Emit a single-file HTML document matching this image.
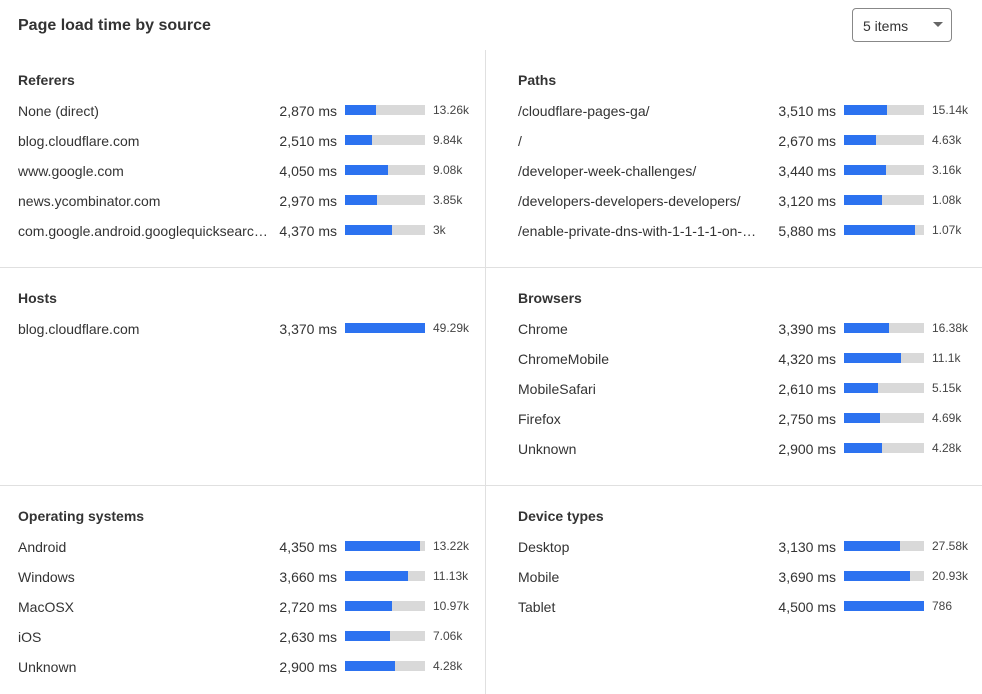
<!DOCTYPE html>
<html><head><style>
body{margin:0;width:982px;height:694px;background:#fff;font-family:"Liberation Sans",Arial,sans-serif;color:#333;position:relative;overflow:hidden}
.a{position:absolute;white-space:nowrap}
.t{font-size:16px;font-weight:bold;color:#333}
.h{font-size:14px;font-weight:bold;color:#333}
.l{font-size:14px}
.v{font-size:14px;text-align:right;width:120px}
.c{font-size:12px;color:#444}
.b{position:absolute;height:10px;width:80px;background:#d9d9d9}
.b i{display:block;height:10px;background:#2c72f0}
.hl{position:absolute;height:1px;background:#e0e0e0;left:0;width:982px}
</style></head><body>
<div class="a t" style="left:18px;top:17px">Page load time by source</div>
<div class="a" style="left:852px;top:8px;width:100px;height:34px;border:1px solid #888;border-radius:4px;box-sizing:border-box"></div>
<div class="a l" style="left:863px;top:18px">5 items</div>
<div class="a" style="left:933px;top:22px;width:0;height:0;border-left:5px solid transparent;border-right:5px solid transparent;border-top:5px solid #666"></div>
<div class="a" style="left:485px;top:50px;width:1px;height:644px;background:#e0e0e0"></div>
<div class="hl" style="top:267px"></div>
<div class="hl" style="top:485px"></div>
<div id="r"></div>
<script>
const S=[
[18,79,"Referers",[["None (direct)","2,870 ms",31,"13.26k"],["blog.cloudflare.com","2,510 ms",27,"9.84k"],["www.google.com","4,050 ms",43,"9.08k"],["news.ycombinator.com","2,970 ms",32,"3.85k"],["com.google.android.googlequicksearc…","4,370 ms",47,"3k"]]],
[18,297,"Hosts",[["blog.cloudflare.com","3,370 ms",80,"49.29k"]]],
[18,515,"Operating systems",[["Android","4,350 ms",75,"13.22k"],["Windows","3,660 ms",63,"11.13k"],["MacOSX","2,720 ms",47,"10.97k"],["iOS","2,630 ms",45,"7.06k"],["Unknown","2,900 ms",50,"4.28k"]]],
[518,79,"Paths",[["/cloudflare-pages-ga/","3,510 ms",43,"15.14k"],["/","2,670 ms",32,"4.63k"],["/developer-week-challenges/","3,440 ms",42,"3.16k"],["/developers-developers-developers/","3,120 ms",38,"1.08k"],["/enable-private-dns-with-1-1-1-1-on-…","5,880 ms",71,"1.07k"]]],
[518,297,"Browsers",[["Chrome","3,390 ms",45,"16.38k"],["ChromeMobile","4,320 ms",57,"11.1k"],["MobileSafari","2,610 ms",34,"5.15k"],["Firefox","2,750 ms",36,"4.69k"],["Unknown","2,900 ms",38,"4.28k"]]],
[518,515,"Device types",[["Desktop","3,130 ms",56,"27.58k"],["Mobile","3,690 ms",66,"20.93k"],["Tablet","4,500 ms",80,"786"]]]];
let h="";
for(const [x,y,t,rows] of S){
 const d=x>400?-1:0;
 h+=`<div class="a h" style="left:${x}px;top:${y-7}px">${t}</div>`;
 rows.forEach((r,i)=>{const cy=110+(y-79)+30*i;
  h+=`<div class="a l" style="left:${x}px;top:${cy-7}px">${r[0]}</div>`;
  h+=`<div class="a v" style="left:${x+199+d}px;top:${cy-7}px">${r[1]}</div>`;
  h+=`<div class="b" style="left:${x+327+d}px;top:${cy-5}px"><i style="width:${r[2]}px"></i></div>`;
  h+=`<div class="a c" style="left:${x+415+d}px;top:${cy-7}px">${r[3]}</div>`;});
}
document.getElementById("r").innerHTML=h;
</script>
</body></html>
